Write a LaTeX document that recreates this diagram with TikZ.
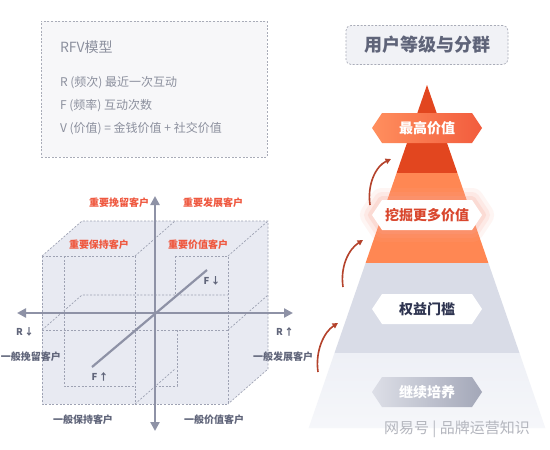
\documentclass[tikz,border=0pt]{standalone}
\usepackage{fontspec}
\setmainfont{Noto Sans CJK SC}
\usetikzlibrary{arrows.meta}
\definecolor{rfvfill}{HTML}{F7F7F9}
\definecolor{rfvline}{HTML}{A9ACB8}
\definecolor{rfvtext}{HTML}{8C909E}
\definecolor{titlefill}{HTML}{F1F2F6}
\definecolor{titletext}{HTML}{5F6479}
\definecolor{cubefill}{HTML}{E8EAF2}
\definecolor{cubeline}{HTML}{9EA2B3}
\definecolor{axiscol}{HTML}{8E92A6}
\definecolor{redlab}{HTML}{EF583F}
\definecolor{graylab}{HTML}{60657A}
\definecolor{pyrA}{HTML}{E2461F}
\definecolor{pyrB}{HTML}{FF8753}
\definecolor{pyrC}{HTML}{D9DCE7}
\definecolor{pyrD}{HTML}{EEF0F6}
\definecolor{hexAl}{HTML}{FF8F5E}
\definecolor{hexAr}{HTML}{F25C3D}
\definecolor{hexBtext}{HTML}{D9472E}
\definecolor{hexCtext}{HTML}{2E3450}
\definecolor{hexDl}{HTML}{DDDFE7}
\definecolor{hexDr}{HTML}{A3A7B8}
\definecolor{arrcol}{HTML}{B4422B}
\definecolor{glowcol}{HTML}{F7A593}
\definecolor{wmcol}{HTML}{B4B6BE}
\newcommand\myfs[1]{\fontsize{#1}{#1}\selectfont}
\begin{document}
\begin{tikzpicture}[x=1pt,y=-1pt,
  txt/.style={inner sep=0pt,outer sep=0pt},
  rfvtxt/.style={txt,anchor=west,text=rfvtext,font=\myfs{12}},
  cubeedge/.style={draw=cubeline,line width=0.7pt,dash pattern=on 2pt off 1.6pt},
  axisline/.style={draw=axiscol,line width=2.4pt,{Triangle[length=9pt,width=9pt]}-{Triangle[length=9pt,width=9pt]}},
  redlabel/.style={txt,text=redlab,font=\myfs{10}\bfseries},
  graylabel/.style={txt,text=graylab,font=\myfs{10}\bfseries},
  axlabel/.style={txt,text=graylab,font=\myfs{9.5}\bfseries},
  hexlabel/.style={txt,font=\myfs{14}\bfseries},
  uparrow/.style={draw=arrcol,line width=1.6pt,-{Triangle[length=5.5pt,width=5.5pt]}},
  hexa/.pic={\path[pic actions] (-55,0) -- (-45,-15) -- (45,-15) -- (55,0) -- (45,15) -- (-45,15) -- cycle;}
]
\useasboundingbox (0,0) rectangle (550,450);
\fill[white] (0,0) rectangle (550,450);

% ---------------- RFV box ----------------
\node[draw=rfvline,fill=rfvfill,line width=0.7pt,dash pattern=on 2pt off 1.6pt,
      minimum width=226pt,minimum height=136pt,anchor=north west,inner sep=0pt,outer sep=0pt] (rfv) at (41,21) {};
\node[txt,anchor=west,text=rfvtext,font=\myfs{14}] (rfvt) at (60,47) {RFV模型};
\node[rfvtxt] (rfvr) at (60,83) {R (频次) 最近一次互动};
\node[rfvtxt] (rfvf) at (60,106) {F (频率) 互动次数};
\node[rfvtxt] (rfvv) at (60,129) {V (价值) = 金钱价值 + 社交价值};

% ---------------- Cube ----------------
\fill[cubefill] (42,256) -- (82,221) -- (268,221) -- (268,369) -- (228,404) -- (42,404) -- cycle;
\path[cubeedge] (42,256) -- (135,256);
\path[cubeedge] (175,256) -- (228,256);
\path[cubeedge] (42,256) -- (42,404) -- (228,404) -- (228,256);
\path[cubeedge] (42,256) -- (82,221) -- (268,221) -- (268,369) -- (228,404);
\path[cubeedge] (228,256) -- (268,221);
\path[cubeedge] (135,256) -- (175,221);
\path[cubeedge] (135,256) -- (135,404);
\path[cubeedge] (135,404) -- (175,369);
\path[cubeedge] (175,256) -- (175,297);
\path[cubeedge] (42,330) -- (228,330);
\path[cubeedge] (42,330) -- (82,295) -- (228,295);
\path[cubeedge] (228,330) -- (268,295);
\path[cubeedge] (64,256) -- (64,386) -- (135,386);
\path[cubeedge] (155,386) -- (177,386) -- (177,330);

% axes
\coordinate (vtop) at (155,196);
\coordinate (vbot) at (155,431);
\coordinate (hleft) at (17,313);
\coordinate (hright) at (293,313);
\coordinate (fa) at (92,367);
\coordinate (fb) at (207,270);
\path[axisline] (vbot) -- (vtop);
\path[axisline] (hleft) -- (hright);
\draw[axiscol,line width=2.2pt] (fa) -- (fb);

% cube labels
\node[redlabel] (l1) at (119,203) {重要挽留客户};
\node[redlabel] (l2) at (213,203) {重要发展客户};
\node[redlabel] (l3) at (99,245) {重要保持客户};
\node[redlabel] (l4) at (198,245) {重要价值客户};
\node[graylabel] (l5) at (31,357) {一般挽留客户};
\node[graylabel] (l6) at (283,357) {一般发展客户};
\node[graylabel] (l7) at (83,420) {一般保持客户};
\node[graylabel] (l8) at (214,420) {一般价值客户};
\node[axlabel] (fdn) at (212,281) {F\,↓};
\node[axlabel] (fup) at (100,377) {F\,↑};
\node[axlabel] (rdn) at (25,332) {R\,↓};
\node[axlabel] (rup) at (285,332) {R\,↑};

% ---------------- Right: title ----------------
\node[draw=rfvline,fill=titlefill,line width=0.7pt,dash pattern=on 2pt off 1.6pt,rounded corners=5pt,
      minimum width=162pt,minimum height=39pt,inner sep=0pt,outer sep=0pt,
      text=titletext,font=\myfs{18}\bfseries] (title) at (427,45) {用户等级与分群};

% pyramid
\fill[pyrA] (427,85) -- (457.4,173) -- (396.6,173) -- cycle;
\fill[pyrB] (396.6,173) -- (457.4,173) -- (488.4,263) -- (365.6,263) -- cycle;
\fill[pyrC] (365.6,263) -- (488.4,263) -- (519.5,353) -- (334.5,353) -- cycle;
\shade[top color=pyrD,bottom color=pyrD!55!white] (334.5,353) -- (519.5,353) -- (545.3,428) -- (308.7,428) -- cycle;

% hex labels
\pic[left color=hexAl,right color=hexAr] at (427,128) {hexa};
\node[hexlabel,text=white] (h1) at (427,128) {最高价值};

\pic[draw=glowcol,line width=24pt,line join=round,draw opacity=0.10] at (427,215) {hexa};
\pic[draw=glowcol,line width=16pt,line join=round,draw opacity=0.14] at (427,215) {hexa};
\pic[draw=glowcol,line width=8pt,line join=round,draw opacity=0.2] at (427,215) {hexa};
\pic[fill=white] at (427,215) {hexa};
\node[hexlabel,text=hexBtext] (h2) at (427,215) {挖掘更多价值};

\pic[fill=white] at (427,309) {hexa};
\node[hexlabel,text=hexCtext] (h3) at (427,309) {权益门槛};

\pic[left color=hexDl,right color=hexDr] at (427,392) {hexa};
\node[hexlabel,text=white] (h4) at (427,392) {继续培养};

% curved arrows
\coordinate (a1s) at (370,205);
\coordinate (a1e) at (391,159);
\coordinate (a2s) at (343,287);
\coordinate (a2e) at (363,240);
\coordinate (a3s) at (318,372);
\coordinate (a3e) at (338,323);
\path[uparrow] (a1s) .. controls (367,184) and (376,166) .. (a1e);
\path[uparrow] (a2s) .. controls (340,266) and (349,249) .. (a2e);
\path[uparrow] (a3s) .. controls (315,351) and (324,332) .. (a3e);

% watermark
\node[txt,text=wmcol,font=\myfs{15}] (wm) at (457,429) {网易号 | 品牌运营知识};
\end{tikzpicture}
\end{document}
